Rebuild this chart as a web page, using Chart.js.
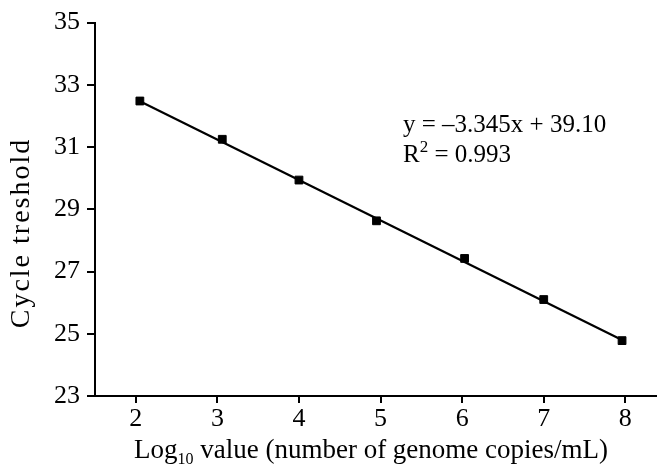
<!DOCTYPE html>
<html>
<head>
<meta charset="utf-8">
<script src="https://cdn.jsdelivr.net/npm/chart.js@4"></script>
<style>
  html, body { margin: 0; padding: 0; background: #ffffff; }
  #wrap { width: 662px; height: 466px; }
</style>
</head>
<body>
<div id="wrap"><canvas id="c" width="662" height="466"></canvas></div>
<script>
// Data
const logValues = [2.05, 3.06, 4.0, 4.95, 6.03, 7.0, 7.96];
const cycleThreshold = [32.48, 31.25, 29.94, 28.63, 27.42, 26.10, 24.78];
const trendX = [2.05, 7.96];
const trendY = [32.47, 24.80];
const xTicks = [2, 3, 4, 5, 6, 7, 8];
const yTicks = [23, 25, 27, 29, 31, 33, 35];
const equationLine = 'y = \u20133.345x + 39.10';
const r2Label = 'R';
const r2Sup = '2';
const r2Value = ' = 0.993';
const xTitleMain = 'Log';
const xTitleSub = '10';
const xTitleRest = ' value (number of genome copies/mL)';
const yTitle = 'Cycle treshold';

const FONT = '"Liberation Serif", "Times New Roman", serif';

const annotationPlugin = {
  id: 'equation',
  afterDraw(chart) {
    const ctx = chart.ctx;
    ctx.save();
    ctx.fillStyle = '#000';
    ctx.textBaseline = 'alphabetic';
    ctx.textAlign = 'left';
    ctx.font = '25px ' + FONT;
    ctx.fillText(equationLine, 403, 132);
    ctx.fillText(r2Label, 403, 162);
    const rw = ctx.measureText(r2Label).width;
    ctx.font = '17px ' + FONT;
    ctx.fillText(r2Sup, 403 + rw, 152);
    const sw = ctx.measureText(r2Sup).width;
    ctx.font = '25px ' + FONT;
    ctx.fillText(r2Value, 403 + rw + sw, 162);

    // x-axis title with subscript
    ctx.font = '27px ' + FONT;
    const w1 = ctx.measureText(xTitleMain).width;
    const w3 = ctx.measureText(xTitleRest).width;
    ctx.font = '16px ' + FONT;
    const w2 = ctx.measureText(xTitleSub).width;
    const total = w1 + w2 + w3;
    let x = 371 - total / 2;
    const by = 458;
    ctx.font = '27px ' + FONT;
    ctx.fillText(xTitleMain, x, by);
    x += w1;
    ctx.font = '16px ' + FONT;
    ctx.fillText(xTitleSub, x, by + 6);
    x += w2;
    ctx.font = '27px ' + FONT;
    ctx.fillText(xTitleRest, x, by);

    // y-axis title (rotated)
    ctx.translate(22, 233);
    ctx.rotate(-Math.PI / 2);
    ctx.textAlign = 'center';
    ctx.textBaseline = 'middle';
    ctx.font = '28px ' + FONT;
    if ('letterSpacing' in ctx) ctx.letterSpacing = '2px';
    ctx.fillText(yTitle, 0, 0);
    ctx.restore();
  }
};

function build() {
  new Chart(document.getElementById('c'), {
    type: 'scatter',
    data: {
      datasets: [
        {
          label: 'Standard',
          data: logValues.map((x, i) => ({ x: x, y: cycleThreshold[i] })),
          pointStyle: 'rect',
          pointRadius: 5.5,
          backgroundColor: '#000',
          borderColor: '#000',
          borderWidth: 1,
          showLine: false,
          order: 0
        },
        {
          label: 'Trend',
          data: trendX.map((x, i) => ({ x: x, y: trendY[i] })),
          showLine: true,
          borderColor: '#000',
          borderWidth: 2.2,
          pointRadius: 0,
          fill: false,
          order: 1
        }
      ]
    },
    plugins: [annotationPlugin],
    options: {
      responsive: false,
      animation: false,
      devicePixelRatio: 1,
      layout: { padding: { top: 20, right: 0, left: 0, bottom: 0 } },
      plugins: {
        legend: { display: false },
        tooltip: { enabled: false }
      },
      scales: {
        x: {
          type: 'linear',
          min: 1.5,
          max: 8.37,
          afterBuildTicks(scale) { scale.ticks = xTicks.map(v => ({ value: v })); },
          afterFit(scale) { scale.height = 70; },
          border: { display: true, color: '#000', width: 2 },
          grid: { display: true, drawOnChartArea: false, drawTicks: true, tickLength: 7, color: '#000', lineWidth: 2 },
          ticks: { color: '#000', font: { family: FONT, size: 26 }, padding: 1, maxRotation: 0, autoSkip: false },
          title: { display: false }
        },
        y: {
          type: 'linear',
          min: 23,
          max: 35,
          afterBuildTicks(scale) { scale.ticks = yTicks.map(v => ({ value: v })); },
          afterFit(scale) { scale.width = 95; },
          border: { display: true, color: '#000', width: 2 },
          grid: { display: true, drawOnChartArea: false, drawTicks: true, tickLength: 8, color: '#000', lineWidth: 2 },
          ticks: { color: '#000', font: { family: FONT, size: 26 }, padding: 7, autoSkip: false },
          title: { display: false }
        }
      }
    }
  });
}

if (document.fonts && document.fonts.load) {
  Promise.all([
    document.fonts.load('27px "Liberation Serif"'),
    document.fonts.load('16px "Liberation Serif"')
  ]).then(build, build);
} else {
  build();
}
</script>
</body>
</html>
